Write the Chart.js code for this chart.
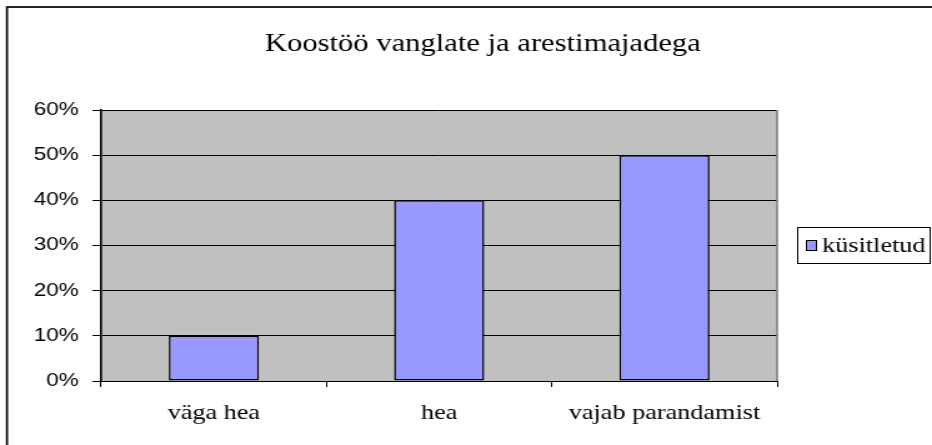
<!DOCTYPE html>
<html><head><meta charset="utf-8">
<script src="https://cdn.jsdelivr.net/npm/chart.js@4/dist/chart.umd.min.js"></script>
<style>html,body{margin:0;padding:0;background:#fff;overflow:hidden}
#c{display:block;width:932px;height:445px}</style>
</head><body>
<canvas id="c" width="746" height="445" style="width:932px;height:445px"></canvas>
<script>
const chartTitle = 'Koostöö vanglate ja arestimajadega';
const categories = ['väga hea', 'hea', 'vajab parandamist'];
const seriesName = 'küsitletud';
const seriesValues = [10, 40, 50];
const yMin = 0, yMax = 60, yStep = 10;

const serif = '"Liberation Serif", "Times New Roman", serif';
const sans = '"Liberation Sans", Arial, sans-serif';

const decor = {
  id: 'decor',
  beforeDraw(chart) {
    const {ctx, chartArea: a} = chart;
    ctx.save();
    ctx.fillStyle = '#fff';
    ctx.fillRect(0, 0, chart.width, chart.height);
    ctx.fillStyle = '#C0C0C0';
    ctx.fillRect(a.left, a.top, a.right - a.left, a.bottom - a.top);
    ctx.restore();
  },
  beforeDatasetsDraw(chart) {
    const {ctx, chartArea: a} = chart;
    ctx.save();
    ctx.strokeStyle = '#808080';
    ctx.lineWidth = 1.6;
    ctx.beginPath();
    ctx.moveTo(a.right, a.top);
    ctx.lineTo(a.right, a.bottom);
    ctx.stroke();
    ctx.restore();
  },
  afterDraw(chart) {
    const {ctx} = chart;
    ctx.save();
    // outer chart border
    ctx.strokeStyle = '#000';
    ctx.lineWidth = 1.7;
    ctx.strokeRect(5.6, 7, chart.width + 20, chart.height + 20);
    // title
    ctx.fillStyle = '#000';
    ctx.font = '24.5px ' + serif;
    ctx.textAlign = 'center';
    ctx.textBaseline = 'middle';
    ctx.fillText(chartTitle, 386.5, 45);
    // legend
    const ds = chart.data.datasets[0];
    ctx.lineWidth = 1;
    ctx.strokeStyle = '#000';
    ctx.strokeRect(638.5, 227.5, 106, 36);
    ctx.fillStyle = ds.backgroundColor;
    ctx.fillRect(645.5, 240.5, 8, 10);
    ctx.strokeRect(645.5, 240.5, 8, 10);
    ctx.fillStyle = '#000';
    ctx.font = '21px ' + serif;
    ctx.textAlign = 'left';
    ctx.textBaseline = 'middle';
    ctx.fillText(ds.label, 658, 246);
    ctx.restore();
  }
};

new Chart(document.getElementById('c'), {
  type: 'bar',
  data: {
    labels: categories,
    datasets: [{
      label: seriesName,
      data: seriesValues,
      backgroundColor: '#9999FF',
      borderColor: '#000',
      borderWidth: 1.5,
      borderSkipped: false,
      barPercentage: 0.4,
      categoryPercentage: 1
    }]
  },
  options: {
    responsive: false,
    animation: false,
    devicePixelRatio: 1,
    layout: {padding: {left: 0, top: 110, right: 124, bottom: 0}},
    plugins: {legend: {display: false}, title: {display: false}, tooltip: {enabled: false}},
    scales: {
      x: {
        offset: true,
        afterFit(s) { s.height = 64; },
        grid: {display: true, drawOnChartArea: false, drawTicks: true, tickLength: 6, color: '#000', offset: true},
        border: {display: true, color: '#000', width: 1},
        ticks: {color: '#000', font: {family: serif, size: 21}, padding: 14, maxRotation: 0}
      },
      y: {
        min: yMin, max: yMax,
        afterFit(s) { s.width = 81; },
        grid: {color: '#000', lineWidth: 1, tickLength: 7},
        border: {display: true, color: '#000', width: 1.6},
        ticks: {stepSize: yStep, color: '#000', font: {family: sans, size: 18}, padding: 11,
          callback: v => v + '%'}
      }
    }
  },
  plugins: [decor]
});
</script>
</body></html>
